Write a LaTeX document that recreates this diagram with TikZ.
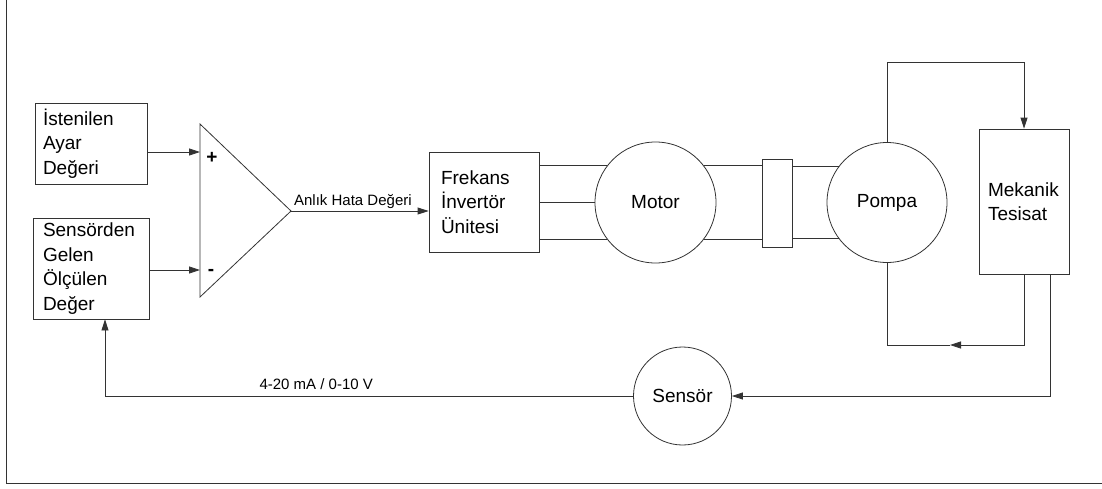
\documentclass[tikz,border=0pt]{standalone}
\usepackage{fontspec}
\setmainfont{Liberation Sans}
\usetikzlibrary{arrows.meta,positioning}

\begin{document}
\begin{tikzpicture}[
x=1pt, y=-1pt,
line width=0.8pt, draw=black!80,
kutu/.style={draw, inner ysep=0pt, align=left, font=\fontsize{19}{24.5}\selectfont},
yuvarlak/.style={draw, circle, inner sep=0pt, font=\fontsize{19}{23}\selectfont},
etiket/.style={font=\fontsize{15}{18}\selectfont, inner sep=2pt},
isaret/.style={font=\fontsize{19}{19}\selectfont\bfseries},
ok/.style={-{Triangle[length=11pt,width=7pt]}} ]

\useasboundingbox (0,0) rectangle (1102,488);

% cerceve
\draw (6,0) -- (6,483) -- (1102,483);

% giris kutulari
\node[kutu, text width=96pt, inner xsep=8pt, minimum height=81pt](ayar) at (91,143.5) {İstenilen\\Ayar\\Değeri};
\node[kutu, text width=96pt, inner xsep=10pt, minimum height=101pt](olcum) at (91,268.5) {Sensörden\\Gelen\\Ölçülen\\Değer};

% karsilastirici
\coordinate (arti) at (200,152);
\coordinate (eksi) at (200,270);
\coordinate (cikis) at (291,211);
\draw (200,124) -- (cikis) -- (200,297) -- cycle;
\node[isaret] at (212,158) {+};
\node[isaret] at (211,272) {-};

\draw[ok] (ayar.east |- arti) -- (arti);
\draw[ok] (olcum.east |- eksi) -- (eksi);

% surucu ve motor
\node[kutu, text width=86pt, inner xsep=12pt, minimum height=100pt](frekans) at (484,202) {Frekans\\İnvertör\\Ünitesi};
\node[yuvarlak, minimum size=121pt](motor) at (655.5,202.5) {Motor};
\node[draw, minimum width=30pt, minimum height=88pt, inner sep=0pt](kaplin) at (777,203) {};
\node[yuvarlak, minimum size=120pt](pompa) at (887,202.5) {Pompa};
\node[kutu, text width=72pt, inner xsep=9pt, minimum height=145pt](tesisat) at (1024,201.5) {Mekanik\\Tesisat};
\node[yuvarlak, minimum size=98pt](sensor) at (682.5,396) {Sensör};

\draw[ok] (cikis) -- node[above, etiket, pos=0.45] {Anlık Hata Değeri} (frekans.west |- cikis);

% kablolar
\draw (frekans.east |- motor.143) -- (motor.143);
\draw (frekans.east |- motor.west) -- (motor.west);
\draw (frekans.east |- motor.217) -- (motor.217);

% mil
\draw (motor.37) -- (kaplin.west |- motor.37);
\draw (motor.-37) -- (kaplin.west |- motor.-37);
\draw (kaplin.east |- pompa.143) -- (pompa.143);
\draw (kaplin.east |- pompa.217) -- (pompa.217);

% boru hatti
\draw[ok] (pompa.north) -- ++(0,-80) -| (tesisat.north);
\coordinate (donus) at (950,345);
\draw[ok] (tesisat.south) |- (donus);
\draw (donus) -| (pompa.south);

% geri besleme
\draw[ok] ([xshift=26pt]tesisat.south) |- (sensor.east);
\draw[ok] (sensor.west) -| node[above=4pt, etiket, pos=0.3] {4-20 mA / 0-10 V} ([xshift=14pt]olcum.south);
\end{tikzpicture}
\end{document}
